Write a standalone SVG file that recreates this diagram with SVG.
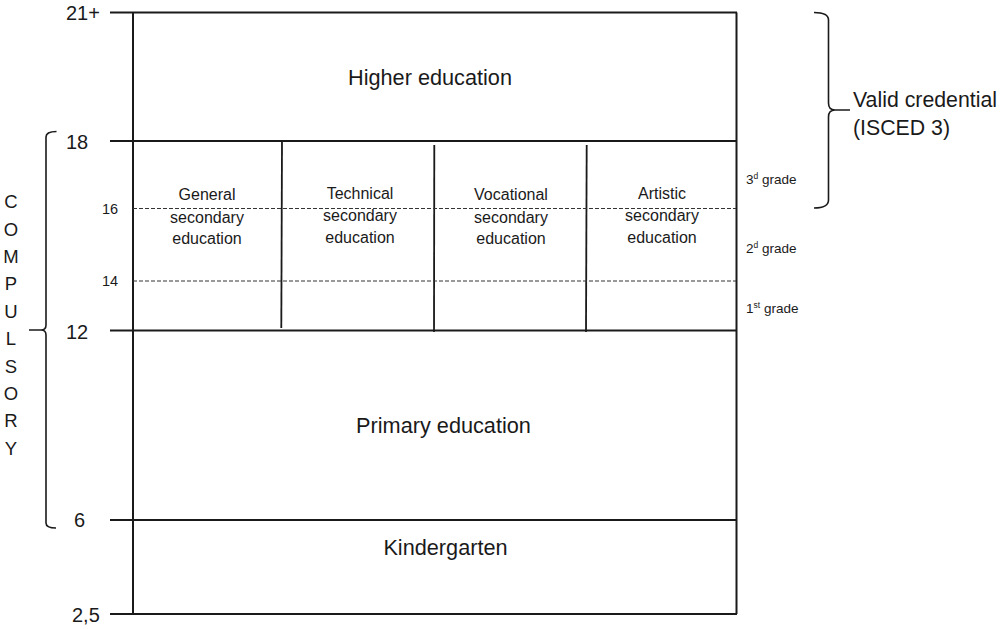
<svg xmlns="http://www.w3.org/2000/svg" width="1003" height="629" viewBox="0 0 1003 629">
<style>
text{font-family:"Liberation Sans",Arial,sans-serif;fill:#1a1a1a}
.big{font-size:21.7px;text-anchor:middle}
.col{font-size:16px;text-anchor:middle}
.age{font-size:20px}
.sm{font-size:14.5px}
.gr{font-size:13.5px}
.sup{font-size:8.5px}
.cmp{font-size:18.5px;text-anchor:middle}
.cred{font-size:21.3px}
.ln{stroke:#1a1a1a;stroke-width:2;fill:none}
.dv{stroke:#1a1a1a;stroke-width:1.8;fill:none}
.ds{stroke:#333;stroke-width:1;stroke-dasharray:4 2;fill:none}
.br{stroke:#1a1a1a;stroke-width:1.6;fill:none}
</style>
<rect width="1003" height="629" fill="#fff"/>
<g id="connectors">
<line class="ln" x1="110" y1="12.5" x2="737" y2="12.5"/>
<line class="ln" x1="110" y1="141" x2="737" y2="141"/>
<line class="ln" x1="110" y1="330.5" x2="737" y2="330.5"/>
<line class="ln" x1="110" y1="520" x2="737" y2="520"/>
<line class="ln" x1="110" y1="614" x2="737" y2="614"/>
<line class="ln" x1="133" y1="12.5" x2="133" y2="614"/>
<line class="ln" x1="736.5" y1="12.5" x2="736.5" y2="614"/>
<line class="dv" x1="282" y1="141" x2="281.3" y2="328"/>
<line class="dv" x1="434.3" y1="145" x2="434" y2="332"/>
<line class="dv" x1="586.7" y1="145" x2="586" y2="332"/>
<line class="ds" x1="133" y1="208.5" x2="736" y2="208.5"/>
<line class="ds" x1="133" y1="281" x2="736" y2="281" stroke="#555"/>
<path class="br" d="M56.5,131.5 Q46,131.5 46,137 V325 Q46,330 41,330 H29 M41,330 Q46,330 46,335 V523 Q46,528 56,528"/>
<path class="br" d="M814,12.5 Q828.5,12.5 828.5,20 V103 Q828.5,110 835,110 H850 M835,110 Q828.5,110 828.5,117 V200 Q828.5,208 814,208"/>
</g>
<g id="axis">
<text class="age" x="66" y="20">21+</text>
<text class="age" x="66" y="149">18</text>
<text class="sm" x="102" y="213.5">16</text>
<text class="sm" x="102" y="285.5">14</text>
<text class="age" x="66" y="339">12</text>
<text class="age" x="74" y="526.5">6</text>
<text class="age" x="72" y="622">2,5</text>
</g>
<g id="compulsory">
<text class="cmp" x="11" y="208.3">C</text>
<text class="cmp" x="11" y="235.5">O</text>
<text class="cmp" x="11" y="263">M</text>
<text class="cmp" x="11" y="290.3">P</text>
<text class="cmp" x="11" y="317.7">U</text>
<text class="cmp" x="11" y="345">L</text>
<text class="cmp" x="11" y="372.5">S</text>
<text class="cmp" x="11" y="400">O</text>
<text class="cmp" x="11" y="427.3">R</text>
<text class="cmp" x="11" y="455">Y</text>
</g>
<g id="higher"><text class="big" x="430" y="85">Higher education</text></g>
<g id="general"><text class="col" x="207" y="200">General</text><text class="col" x="207" y="222.5">secondary</text><text class="col" x="207" y="243.5">education</text></g>
<g id="technical"><text class="col" x="360" y="198.5">Technical</text><text class="col" x="360" y="221">secondary</text><text class="col" x="360" y="242.5">education</text></g>
<g id="vocational"><text class="col" x="511" y="200">Vocational</text><text class="col" x="511" y="222.5">secondary</text><text class="col" x="511" y="243.5">education</text></g>
<g id="artistic"><text class="col" x="662" y="198.5">Artistic</text><text class="col" x="662" y="221">secondary</text><text class="col" x="662" y="242.5">education</text></g>
<g id="primary"><text class="big" x="443.5" y="433">Primary education</text></g>
<g id="kindergarten"><text class="big" x="445.5" y="555">Kindergarten</text></g>
<g id="grades">
<text class="gr" x="746" y="184">3<tspan class="sup" dy="-5">d</tspan><tspan dy="5"> grade</tspan></text>
<text class="gr" x="746" y="252.5">2<tspan class="sup" dy="-5">d</tspan><tspan dy="5"> grade</tspan></text>
<text class="gr" x="746" y="312.5">1<tspan class="sup" dy="-5">st</tspan><tspan dy="5"> grade</tspan></text>
</g>
<g id="credential">
<text class="cred" x="853" y="107">Valid credential</text>
<text class="cred" x="853" y="134.5">(ISCED 3)</text>
</g>
</svg>
